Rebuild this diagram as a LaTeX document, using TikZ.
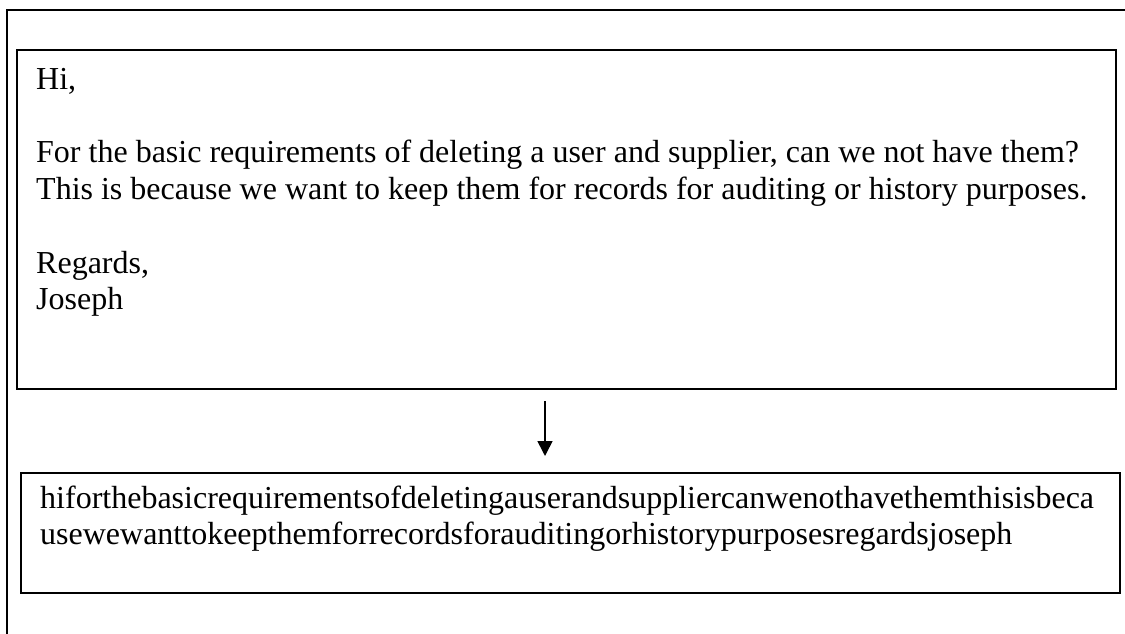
\documentclass[tikz,border=0pt]{standalone}
\usepackage{fontspec}
\setmainfont{Liberation Serif}
\usetikzlibrary{arrows.meta}
\begin{document}
\begin{tikzpicture}[x=1pt,y=-1pt,
  frameline/.style={line width=2pt,draw=black},
  boxstyle/.style={draw=black,line width=2pt,rectangle,inner sep=0pt},
  txt/.style={anchor=base west,inner sep=0pt,font=\fontsize{32}{36.8}\selectfont},
  flow/.style={line width=1.6pt,-{Triangle[width=15pt,length=15pt]}}]
\useasboundingbox (0,0) rectangle (1125,634);
\fill[white] (0,0) rectangle (1125,634);
% outer frame (only top and left visible)
\draw[frameline] (1130,10) -- (7,10) -- (7,640);
% box 1
\node[boxstyle,minimum width=1099pt,minimum height=339pt] (box1) at (566.5,219.5) {};
\node[txt] (t1) at (36,89) {Hi,};
\node[txt] (t2) at (36,162.6) {For the basic requirements of deleting a user and supplier, can we not have them?};
\node[txt] (t3) at (36,199.4) {This is because we want to keep them for records for auditing or history purposes.};
\node[txt] (t4) at (36,273) {Regards,};
\node[txt] (t5) at (36,309.8) {Joseph};
% arrow
\coordinate (a1) at (545,401);
\coordinate (a2) at (545,456);
\draw[flow] (a1) -- (a2);
% box 2
\node[boxstyle,minimum width=1099pt,minimum height=120pt] (box2) at (570.5,533) {};
\node[txt] (u1) at (40,508) {hiforthebasicrequirementsofdeletingauserandsuppliercanwenothavethemthisisbeca};
\node[txt] (u2) at (40,544.8) {usewewanttokeepthemforrecordsforauditingorhistorypurposesregardsjoseph};
\end{tikzpicture}
\end{document}
